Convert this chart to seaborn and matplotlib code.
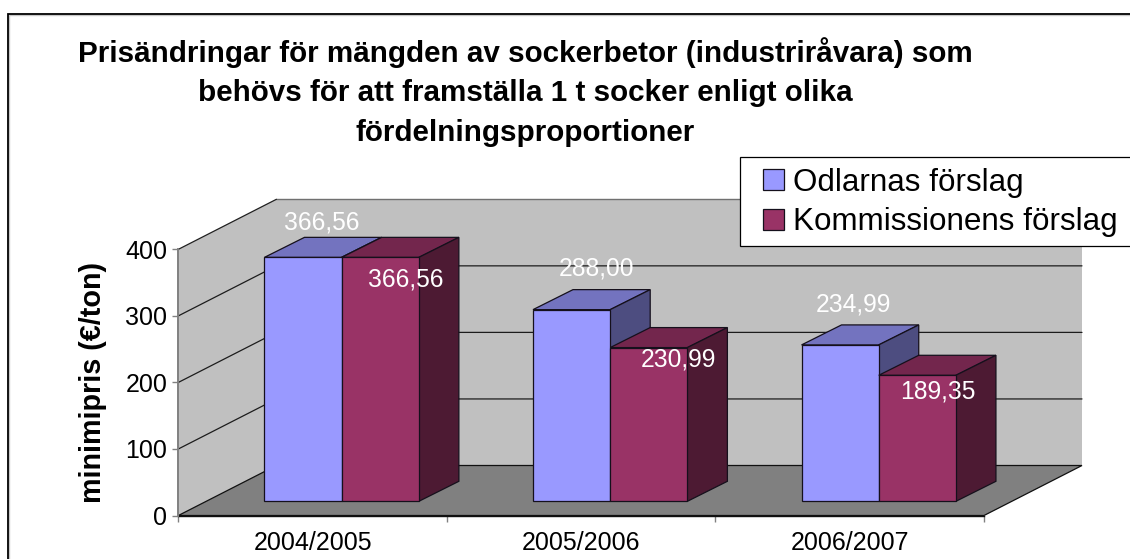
import matplotlib
matplotlib.use("Agg")
import matplotlib.pyplot as plt
from matplotlib.patches import Polygon, Rectangle
from matplotlib.lines import Line2D
from matplotlib.transforms import IdentityTransform
import numpy as np
import pandas as pd
import seaborn as sns

# ---- data ----
years = ["2004/2005", "2005/2006", "2006/2007"]
odlarna = [366.56, 288.00, 234.99]
kommissionen = [366.56, 230.99, 189.35]
series_names = ["Odlarnas förslag", "Kommissionens förslag"]
value_labels_odlarna = ["366,56", "288,00", "234,99"]
value_labels_komm = ["366,56", "230,99", "189,35"]
y_ticks = [0, 100, 200, 300, 400]
title_lines = [
    "Prisändringar för mängden av sockerbetor (industriråvara) som",
    "behövs för att framställa 1 t socker enligt olika",
    "fördelningsproportioner",
]
y_label = "minimipris (€/ton)"

# ---- styling ----
W, H = 1130, 559
FONT = "Liberation Sans"
front_colors = ["#9999FF", "#993366"]
top_colors = ["#7373BF", "#73264D"]
side_colors = ["#4D4D80", "#4D1A33"]
WALL, FLOOR, GREY = "#C0C0C0", "#808080", "#808080"
EDGE = "#15101c"
# projected depth in pixels
WALL_DX, WALL_DY = 98.0, 50.0
BAR_DX, BAR_DY = 40.0, 20.0
BAR_SHIFT_X, BAR_SHIFT_Y = 29.0, 14.2
# data-label offsets from top centre of the front face, in pixels (x, y up)
label_off = [[(19, 34.6), (25, -22)], [(25, 41), (30, -12)], [(13, 40), (20, -16)]]

sns.set_theme(style="white")
plt.rcParams["font.family"] = [FONT, "DejaVu Sans"]
plt.rcParams["text.color"] = "black"

df = pd.DataFrame({
    "year": years * 2,
    "value": odlarna + kommissionen,
    "series": [series_names[0]] * 3 + [series_names[1]] * 3,
})

fig = plt.figure(figsize=(W / 100, H / 100), dpi=100, facecolor="white")

# outer chart frame, running off the right and bottom of the picture
fig.add_artist(Rectangle((8.8 / W, -0.1), 1.2, 1.1 - 15.0 / H, transform=fig.transFigure,
                         fill=False, ec="#C8C8C8", lw=1.0, zorder=-2))
fig.add_artist(Rectangle((7.6 / W, -0.1), 1.2, 1.1 - 13.8 / H, transform=fig.transFigure,
                         fill=False, ec="black", lw=1.3, zorder=-1))

L, R, T, B = 178.4, 984.0, 249.3, 515.5
ax = fig.add_axes([L / W, (H - B) / H, (R - L) / W, (B - T) / H], zorder=1)
ax.set_xlim(-0.5, 2.5)
ax.set_ylim(0, 400)
ax.patch.set_visible(False)
ax_bars = fig.add_axes([(L + BAR_SHIFT_X) / W, (H - B + BAR_SHIFT_Y) / H, (R - L) / W, (B - T) / H], zorder=2)

sns.barplot(data=df, x="year", y="value", hue="series", order=years, hue_order=series_names,
            palette=front_colors, saturation=1, width=0.575, gap=0, errorbar=None,
            ax=ax_bars, edgecolor=EDGE, linewidth=0.9)
ax_bars.set_xlim(-0.5, 2.5)
ax_bars.set_ylim(0, 400)
handles, labels = ax_bars.get_legend_handles_labels()
ax_bars.get_legend().remove()
ax_bars.set_axis_off()


def wall_pt(x, y, f):
    p = ax.transData.transform((x, y))
    return (p[0] + f * WALL_DX, p[1] + f * WALL_DY)


def wall_poly(pts, fc, ec, lw=0.9):
    ax.add_patch(Polygon([wall_pt(*p) for p in pts], closed=True, fc=fc, ec=ec, lw=lw,
                         transform=IdentityTransform(), clip_on=False, zorder=0.5))


def wall_line(pts, color, lw=0.9):
    ax.add_line(Line2D(*zip(*[wall_pt(*p) for p in pts]), color=color, lw=lw,
                       transform=IdentityTransform(), clip_on=False, zorder=0.7))


x0, x1 = ax.get_xlim()
ymax = y_ticks[-1]
wall_poly([(x0, 0, 1), (x1, 0, 1), (x1, ymax, 1), (x0, ymax, 1)], WALL, "none", lw=0)
wall_poly([(x0, 0, 0), (x0, 0, 1), (x0, ymax, 1), (x0, ymax, 0)], WALL, "none", lw=0)
wall_poly([(x0, 0, 0), (x1, 0, 0), (x1, 0, 1), (x0, 0, 1)], FLOOR, "#101010")
wall_line([(x0, ymax, 1), (x1, ymax, 1)], "#707070", lw=1.0)
wall_line([(x0, ymax, 0), (x0, ymax, 1)], "#202020")
for v in y_ticks[1:-1]:
    wall_line([(x0, v, 0), (x0, v, 1), (x1, v, 1)], "#1c1c1c")

# 3-D faces derived from the bars that seaborn drew
for s, container in enumerate(ax_bars.containers):
    base_z = 2 + 2 * s
    for rect in container:
        rect.set_zorder(base_z + 1)
        rect.set_clip_on(False)
        xa, xb, v = rect.get_x(), rect.get_x() + rect.get_width(), rect.get_height()
        a = ax_bars.transData.transform((xa, v))
        b = ax_bars.transData.transform((xb, v))
        c = ax_bars.transData.transform((xb, 0))
        d = np.array([BAR_DX, BAR_DY])
        ax_bars.add_patch(Polygon([a, b, b + d, a + d], closed=True, fc=top_colors[s], ec=EDGE, lw=0.9,
                                  transform=IdentityTransform(), clip_on=False, zorder=base_z))
        ax_bars.add_patch(Polygon([b, c, c + d, b + d], closed=True, fc=side_colors[s], ec=EDGE, lw=0.9,
                                  transform=IdentityTransform(), clip_on=False, zorder=base_z))

# data labels
all_labels = [value_labels_odlarna, value_labels_komm]
for s, container in enumerate(ax_bars.containers):
    for i, rect in enumerate(container):
        ax_bars.annotate(all_labels[s][i], xy=(rect.get_x() + rect.get_width() / 2, rect.get_height()),
                         xytext=label_off[i][s], textcoords="offset pixels", ha="center", va="center",
                         color="white", fontsize=17.7, zorder=20, annotation_clip=False)

# axes, ticks
sns.despine(ax=ax, top=True, right=True)
ax.spines["left"].set_color(GREY)
ax.spines["left"].set_linewidth(1.4)
ax.spines["left"].set_zorder(3)
ax.spines["bottom"].set_color("#101010")
ax.spines["bottom"].set_linewidth(1.0)
ax.set_yticks(y_ticks)
ax.tick_params(axis="y", which="major", left=True, length=4, width=1, color=GREY, pad=4, labelsize=18, labelcolor="black")
ax.set_xticks([-0.5, 0.5, 1.5, 2.5])
ax.set_xticklabels([])
ax.tick_params(axis="x", which="major", bottom=True, length=4.5, width=1, color=GREY)
ax.set_xticks([0, 1, 2], minor=True)
ax.set_xticklabels(years, minor=True)
ax.tick_params(axis="x", which="minor", bottom=False, length=0, pad=11.5, labelsize=18, labelcolor="black")
ax.set_xlabel("")
ax.set_ylabel(y_label, fontsize=20.7, fontweight="bold", color="black", va="center")
ax.yaxis.set_label_coords(-0.106, 0.5)

# title
fig.suptitle("\n".join(title_lines), x=525 / W, y=1 - 92 / H, ha="center", va="center",
             fontsize=21.3, fontweight="bold", color="black", linespacing=1.52)

# legend: its box runs off the right edge of the picture
fig.add_artist(Rectangle((739.8 / W, 1 - 245.7 / H), 400 / W, 88.4 / H, transform=fig.transFigure,
                         fc="white", ec="black", lw=0.9, zorder=4))
leg = fig.legend(handles, labels, loc="upper left", bbox_to_anchor=(763 / W, 1 - 167.5 / H),
                 borderaxespad=0, frameon=False, fontsize=22.6, handlelength=0.67, handleheight=0.64,
                 handletextpad=0.29, borderpad=0, labelspacing=0.314, labelcolor="black")
leg.set_zorder(5)

fig.savefig("out.png", dpi=100)
